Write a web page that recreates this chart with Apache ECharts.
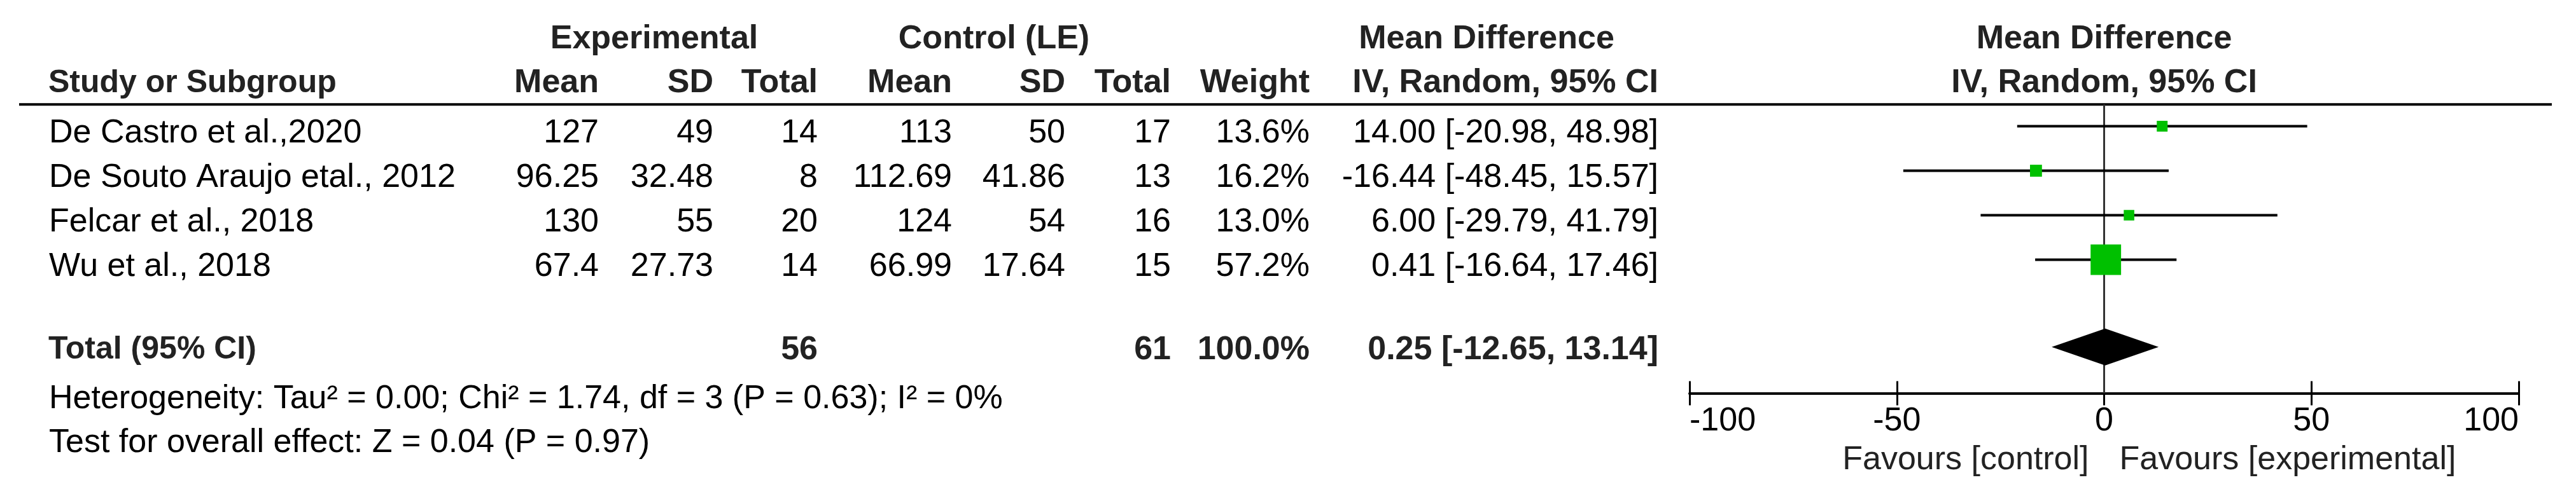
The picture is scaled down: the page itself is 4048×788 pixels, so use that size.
<!DOCTYPE html>
<html>
<head>
<meta charset="utf-8">
<script src="https://cdn.jsdelivr.net/npm/echarts@6.0.0/dist/echarts.min.js"></script>
<style>
html, body { margin: 0; padding: 0; background: #fff; }
#forest { width: 4048px; height: 788px; }
</style>
</head>
<body>
<div id="forest"></div>
<script>
// study data
var studies = ['De Castro et al.,2020', 'De Souto Araujo etal., 2012', 'Felcar et al., 2018', 'Wu et al., 2018'];
var expMean = [127, 96.25, 130, 67.4];
var expSD = [49, 32.48, 55, 27.73];
var expN = [14, 8, 20, 14];
var ctlMean = [113, 112.69, 124, 66.99];
var ctlSD = [50, 41.86, 54, 17.64];
var ctlN = [17, 13, 16, 15];
var weight = [13.6, 16.2, 13.0, 57.2];
var md = [14.00, -16.44, 6.00, 0.41];
var ciLow = [-20.98, -48.45, -29.79, -16.64];
var ciHigh = [48.98, 15.57, 41.79, 17.46];

// pooled
var totalExpN = 56;
var totalCtlN = 61;
var totalWeight = 100.0;
var totalMD = 0.25;
var totalLow = -12.65;
var totalHigh = 13.14;

var axisTicks = [-100, -50, 0, 50, 100];
var heterogeneity = 'Heterogeneity: Tau\u00b2 = 0.00; Chi\u00b2 = 1.74, df = 3 (P = 0.63); I\u00b2 = 0%';
var overallEffect = 'Test for overall effect: Z = 0.04 (P = 0.97)';

var FONT = 'Liberation Sans, Arial, sans-serif';
var FS = 52;

var dom = document.getElementById('forest');
var myChart = echarts.init(dom, null, { renderer: 'canvas' });

// layout of table (pixel columns of the table grid)
var col = { study: 76, expMean: 941, expSD: 1121, expN: 1285, ctlMean: 1496, ctlSD: 1674, ctlN: 1840, weight: 2058, ci: 2606 };
var plotLeft = 2655, plotWidth = 1303;
var plotMid = plotLeft + plotWidth / 2;
var rowPos = { head1: -1.114, head2: -0.129, total: 5.861, het: 6.971, test: 7.957, favours: 8.339, rule: 0.347 };

function fmtCI(m, lo, hi) {
  return m.toFixed(2) + ' [' + lo.toFixed(2) + ', ' + hi.toFixed(2) + ']';
}
function boxSize(w) {
  return 7.3 + 0.71 * w;
}

var cells = [];
function cell(x, v, text, align, bold, color, size) {
  cells.push({ x: x, v: v, text: text, align: align, bold: bold, color: color, size: size });
}

// headers
cell(1028, rowPos.head1, 'Experimental', 'center', true);
cell(1562, rowPos.head1, 'Control (LE)', 'center', true);
cell(2336, rowPos.head1, 'Mean Difference', 'center', true);
cell(plotMid, rowPos.head1, 'Mean Difference', 'center', true);
cell(col.study, rowPos.head2, 'Study or Subgroup', 'left', true, null, 50);
cell(col.expMean, rowPos.head2, 'Mean', 'right', true);
cell(col.expSD, rowPos.head2, 'SD', 'right', true);
cell(col.expN, rowPos.head2, 'Total', 'right', true);
cell(col.ctlMean, rowPos.head2, 'Mean', 'right', true);
cell(col.ctlSD, rowPos.head2, 'SD', 'right', true);
cell(col.ctlN, rowPos.head2, 'Total', 'right', true);
cell(col.weight, rowPos.head2, 'Weight', 'right', true);
cell(col.ci, rowPos.head2, 'IV, Random, 95% CI', 'right', true);
cell(plotMid, rowPos.head2, 'IV, Random, 95% CI', 'center', true);

// study rows
studies.forEach(function (name, i) {
  var v = i + 1;
  cell(col.study + 1, v, name, 'left', false);
  cell(col.expMean, v, String(expMean[i]), 'right', false);
  cell(col.expSD, v, String(expSD[i]), 'right', false);
  cell(col.expN, v, String(expN[i]), 'right', false);
  cell(col.ctlMean, v, String(ctlMean[i]), 'right', false);
  cell(col.ctlSD, v, String(ctlSD[i]), 'right', false);
  cell(col.ctlN, v, String(ctlN[i]), 'right', false);
  cell(col.weight, v, weight[i].toFixed(1) + '%', 'right', false);
  cell(col.ci, v, fmtCI(md[i], ciLow[i], ciHigh[i]), 'right', false);
});

// total + footnotes
cell(col.study, rowPos.total, 'Total (95% CI)', 'left', true, null, 50);
cell(col.expN, rowPos.total, String(totalExpN), 'right', true);
cell(col.ctlN, rowPos.total, String(totalCtlN), 'right', true);
cell(col.weight, rowPos.total, totalWeight.toFixed(1) + '%', 'right', true);
cell(col.ci, rowPos.total, fmtCI(totalMD, totalLow, totalHigh), 'right', true);
cell(col.study + 1, rowPos.het, heterogeneity, 'left', false);
cell(col.study + 1, rowPos.test, overallEffect, 'left', false);
cell(plotMid - 24, rowPos.favours, 'Favours [control]', 'right', false, '#222');
cell(plotMid + 24, rowPos.favours, 'Favours [experimental]', 'left', false, '#222');

var studyRows = studies.map(function (s, i) { return [md[i], i + 1, ciLow[i], ciHigh[i], weight[i]]; });

option = {
  animation: false,
  backgroundColor: '#fff',
  grid: [
    { left: 0, right: 0, top: 0, height: 770, outerBoundsMode: 'none' },
    { left: plotLeft, width: plotWidth, top: 128.5, height: 490, outerBoundsMode: 'none' }
  ],
  xAxis: [
    { gridIndex: 0, type: 'value', min: 0, max: 4048, show: false },
    {
      gridIndex: 1,
      type: 'value',
      min: axisTicks[0],
      max: axisTicks[axisTicks.length - 1],
      interval: 50,
      position: 'bottom',
      axisLine: { show: true, onZero: false, lineStyle: { color: '#000', width: 4 } },
      axisTick: { show: true, length: 19, lineStyle: { color: '#000', width: 3 } },
      splitLine: { show: false },
      axisLabel: {
        margin: 18,
        color: '#000',
        fontFamily: FONT,
        fontSize: FS,
        alignMinLabel: 'left',
        alignMaxLabel: 'right'
      }
    },
    {
      gridIndex: 1,
      type: 'value',
      min: axisTicks[0],
      max: axisTicks[axisTicks.length - 1],
      interval: 50,
      position: 'bottom',
      axisLine: { show: false, onZero: false },
      axisTick: { show: true, inside: true, length: 19, lineStyle: { color: '#000', width: 3 } },
      axisLabel: { show: false },
      splitLine: { show: false }
    }
  ],
  yAxis: [
    { gridIndex: 0, type: 'value', min: -2, max: 9, inverse: true, show: false },
    { gridIndex: 1, type: 'value', min: 0, max: 7, inverse: true, show: false }
  ],
  series: [
    {
      // header rule
      type: 'line',
      xAxisIndex: 0,
      yAxisIndex: 0,
      symbol: 'none',
      silent: true,
      lineStyle: { color: '#000', width: 4 },
      data: [[30, rowPos.rule], [4010, rowPos.rule]],
      z: 1
    },
    {
      // line of no effect
      type: 'line',
      xAxisIndex: 1,
      yAxisIndex: 1,
      symbol: 'none',
      silent: true,
      lineStyle: { color: '#333', width: 3 },
      data: [[0, 0.511], [0, 7]],
      z: 1
    },
    {
      type: 'custom',
      xAxisIndex: 1,
      yAxisIndex: 1,
      data: studyRows,
      z: 3,
      renderItem: function (params, api) {
        var c = api.coord([api.value(0), api.value(1)]);
        var lo = api.coord([api.value(2), api.value(1)]);
        var hi = api.coord([api.value(3), api.value(1)]);
        var s = boxSize(api.value(4));
        return {
          type: 'group',
          children: [
            { type: 'line', shape: { x1: lo[0], y1: lo[1], x2: hi[0], y2: hi[1] }, style: { stroke: '#000', lineWidth: 4 } },
            { type: 'rect', shape: { x: c[0] - s / 2, y: c[1] - s / 2, width: s, height: s }, style: { fill: '#00c000' } }
          ]
        };
      }
    },
    {
      type: 'custom',
      xAxisIndex: 1,
      yAxisIndex: 1,
      data: [[totalMD, 5.961, totalLow, totalHigh]],
      z: 3,
      renderItem: function (params, api) {
        var c = api.coord([api.value(0), api.value(1)]);
        var lo = api.coord([api.value(2), api.value(1)]);
        var hi = api.coord([api.value(3), api.value(1)]);
        var h = 29;
        return {
          type: 'polygon',
          shape: { points: [[lo[0], lo[1]], [c[0], c[1] - h], [hi[0], hi[1]], [c[0], c[1] + h]] },
          style: { fill: '#000' }
        };
      }
    },
    {
      type: 'custom',
      xAxisIndex: 0,
      yAxisIndex: 0,
      data: cells.map(function (c) { return [c.x, c.v]; }),
      z: 4,
      renderItem: function (params, api) {
        var c = cells[params.dataIndex];
        var p = api.coord([c.x, c.v]);
        return {
          type: 'text',
          x: p[0],
          y: p[1],
          style: {
            text: c.text,
            align: c.align,
            verticalAlign: 'middle',
            fontFamily: FONT,
            fontSize: c.size || FS,
            fontWeight: c.bold ? 'bold' : 'normal',
            fill: c.color || (c.bold ? '#222' : '#000')
          }
        };
      }
    }
  ]
};

if (option && typeof option === 'object') {
  myChart.setOption(option, true);
}
</script>
</body>
</html>
